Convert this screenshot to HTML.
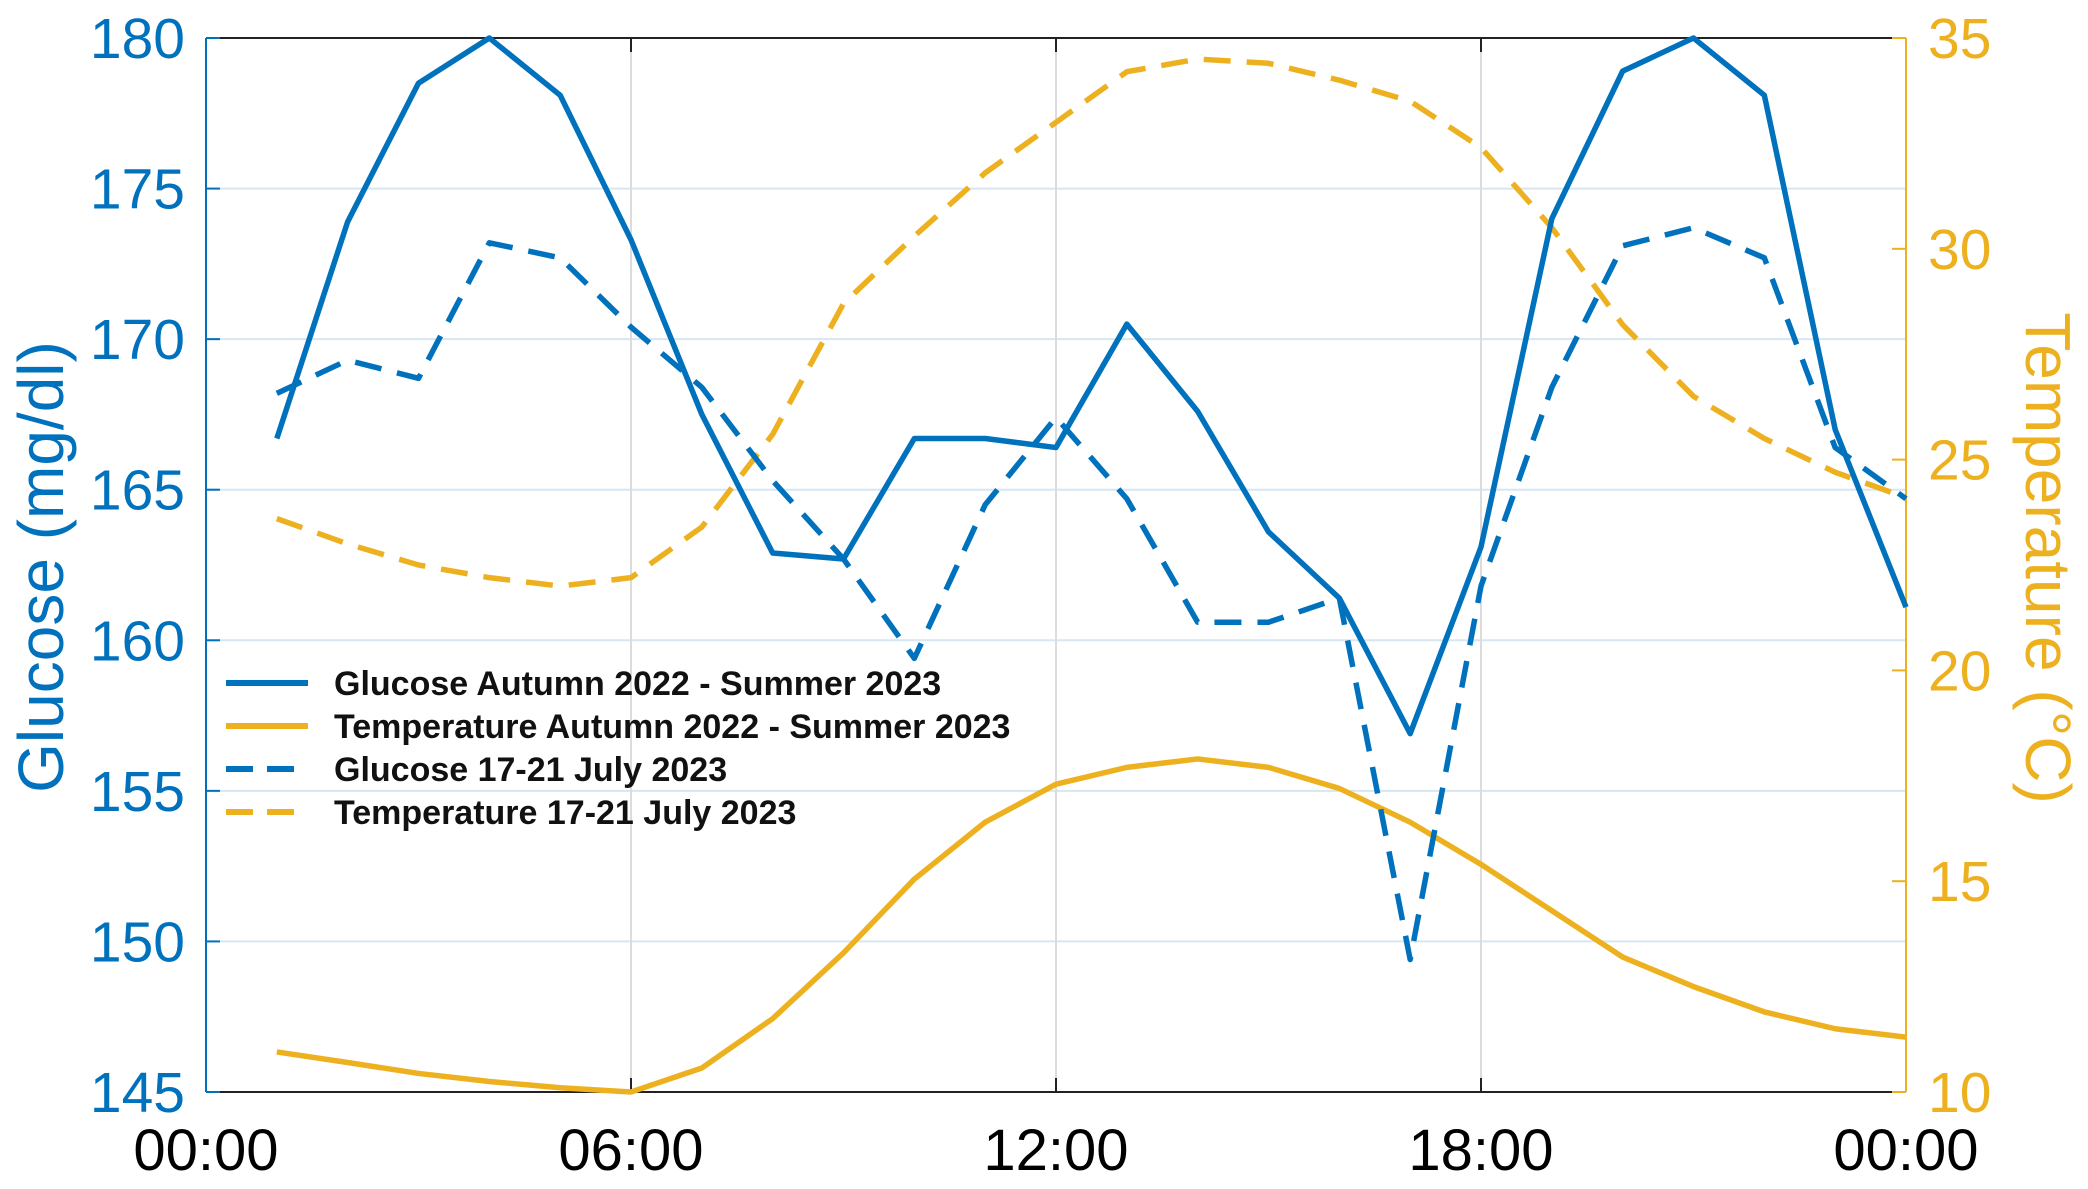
<!DOCTYPE html>
<html><head><meta charset="utf-8"><style>
html,body{margin:0;padding:0;background:#fff;}
svg text{font-family:"Liberation Sans",Arial,sans-serif;}
</style></head><body>
<svg id="s" width="2088" height="1184" xmlns="http://www.w3.org/2000/svg"></svg>
<script>
const L=206,R=1906,T=38,B=1092;
const X=h=>L+(R-L)*h/24;
const YG=v=>B-(v-145)*(B-T)/35;
const YT=v=>B-(v-10)*(B-T)/25;
const gs=[166.7,173.9,178.5,180,178.1,173.3,167.5,162.9,162.7,166.7,166.7,166.4,170.5,167.6,163.6,161.4,156.9,163.1,174.0,178.9,180,178.1,167.0,161.1];
const gd=[168.2,169.3,168.7,173.2,172.7,170.4,168.4,165.3,162.7,159.4,164.5,167.4,164.7,160.6,160.6,161.4,149.4,161.8,168.4,173.1,173.7,172.7,166.4,164.7];
const ts=[10.95,10.7,10.44,10.25,10.1,10.0,10.57,11.74,13.3,15.05,16.4,17.3,17.7,17.9,17.7,17.2,16.4,15.4,14.3,13.2,12.5,11.9,11.5,11.3];
const td=[23.6,23.0,22.5,22.2,22.0,22.2,23.4,25.6,28.7,30.3,31.8,33.0,34.2,34.5,34.4,34.0,33.5,32.4,30.5,28.2,26.5,25.5,24.7,24.1];
const B_="#0072BD",Yc="#EDB120";
let s="";
for(let v=150;v<180;v+=5)s+=`<line x1="${L}" x2="${R}" y1="${YG(v)}" y2="${YG(v)}" stroke="#d6e6f3" stroke-width="2"/>`;
for(const h of [6,12,18])s+=`<line x1="${X(h)}" x2="${X(h)}" y1="${T}" y2="${B}" stroke="#dcdcdc" stroke-width="2"/>`;
s+=`<line x1="${L}" x2="${R}" y1="${T}" y2="${T}" stroke="#222" stroke-width="2"/>`;
s+=`<line x1="${L}" x2="${R}" y1="${B}" y2="${B}" stroke="#222" stroke-width="2"/>`;
s+=`<line x1="${L}" x2="${L}" y1="${T}" y2="${B}" stroke="${B_}" stroke-width="2"/>`;
s+=`<line x1="${R}" x2="${R}" y1="${T}" y2="${B}" stroke="${Yc}" stroke-width="2"/>`;
for(const h of [6,12,18]){s+=`<line x1="${X(h)}" x2="${X(h)}" y1="${T}" y2="${T+14}" stroke="#222" stroke-width="2"/><line x1="${X(h)}" x2="${X(h)}" y1="${B}" y2="${B-14}" stroke="#222" stroke-width="2"/>`;}
for(let v=145;v<=180;v+=5){s+=`<line x1="${L}" x2="${L+14}" y1="${YG(v)}" y2="${YG(v)}" stroke="${B_}" stroke-width="2"/>`;
 s+=`<text x="185" y="${YG(v)+20}" font-size="57" fill="${B_}" text-anchor="end">${v}</text>`;}
for(let v=10;v<=35;v+=5){s+=`<line x1="${R-14}" x2="${R}" y1="${YT(v)}" y2="${YT(v)}" stroke="${Yc}" stroke-width="2"/>`;
 s+=`<text x="1928" y="${YT(v)+20}" font-size="57" fill="${Yc}">${v}</text>`;}
[["00:00",0],["06:00",6],["12:00",12],["18:00",18],["00:00",24]].forEach(([t,h])=>s+=`<text x="${X(h)}" y="1170" font-size="58" text-anchor="middle" fill="#000">${t}</text>`);
s+=`<text transform="translate(63,567) rotate(-90)" font-size="64" fill="${B_}" text-anchor="middle">Glucose (mg/dl)</text>`;
s+=`<text transform="translate(2026,558) rotate(90)" font-size="64" fill="${Yc}" text-anchor="middle">Temperature (°C)</text>`;
const pl=(d,f,c,dash)=>`<polyline fill="none" stroke="${c}" stroke-width="5.5" stroke-linejoin="round" ${dash?'stroke-dasharray="27 16"':''} points="${d.map((v,i)=>X(i+1)+','+f(v)).join(' ')}"/>`;
s+=pl(ts,YT,Yc,0)+pl(td,YT,Yc,1)+pl(gd,YG,B_,1)+pl(gs,YG,B_,0);
const lg=[["Glucose Autumn 2022 - Summer 2023",B_,0],["Temperature Autumn 2022 - Summer 2023",Yc,0],["Glucose 17-21 July 2023",B_,1],["Temperature 17-21 July 2023",Yc,1]];
lg.forEach(([t,c,d],i)=>{const y=683+i*43;
 s+=`<line x1="226" x2="308" y1="${y}" y2="${y}" stroke="${c}" stroke-width="6" ${d?'stroke-dasharray="27 14"':''}/>`;
 s+=`<text x="334" y="${y+12}" font-size="34" font-weight="bold" fill="#111">${t}</text>`;});
document.getElementById("s").innerHTML=s;
</script>
</body></html>
